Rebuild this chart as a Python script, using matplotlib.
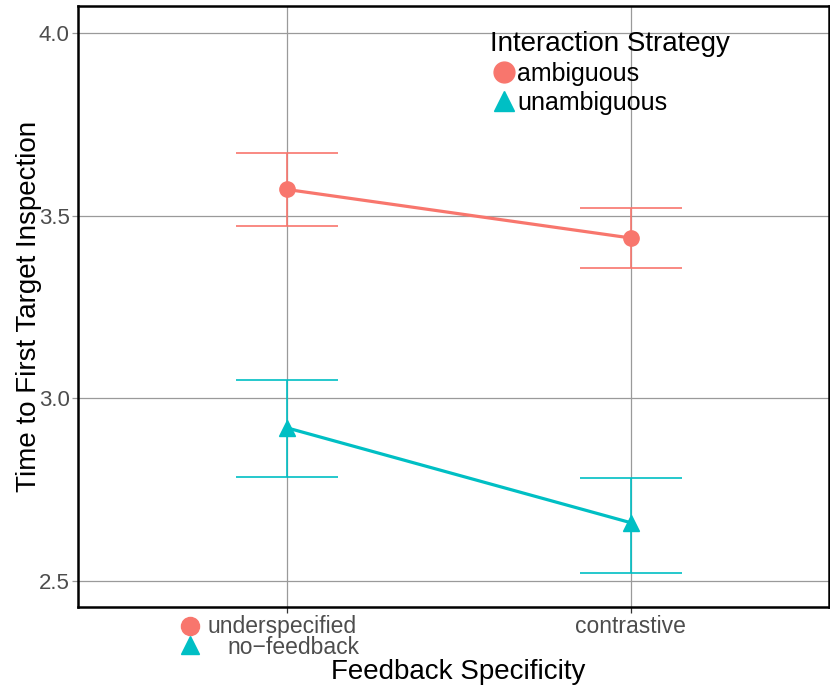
import numpy as np
import matplotlib.pyplot as plt
from matplotlib.lines import Line2D
import matplotlib.transforms as mtransforms

plt.rcParams['font.family'] = ['Liberation Sans', 'DejaVu Sans']

feedback = ['underspecified', 'contrastive']
strategies = ['ambiguous', 'unambiguous']
ambiguous_mean = [3.572, 3.439]
ambiguous_lo = [3.473, 3.357]
ambiguous_hi = [3.672, 3.521]
unambiguous_mean = [2.919, 2.659]
unambiguous_lo = [2.785, 2.522]
unambiguous_hi = [3.050, 2.782]

colors = ['#F8766D', '#00BFC4']
markers = ['o', '^']

fig = plt.figure(figsize=(8.3, 6.89), dpi=100)
ax = fig.add_axes([0.094, 0.119, 0.905, 0.872])

x = np.arange(1, len(feedback) + 1)
series = [(ambiguous_mean, ambiguous_lo, ambiguous_hi),
          (unambiguous_mean, unambiguous_lo, unambiguous_hi)]
for (m, lo, hi), c, mk in zip(series, colors, markers):
    m = np.array(m); lo = np.array(lo); hi = np.array(hi)
    ax.errorbar(x, m, yerr=[m - lo, hi - m], fmt='none', ecolor=c,
                elinewidth=1.2, capsize=37, capthick=1.2, zorder=3)
    ax.plot(x, m, color=c, lw=2.3, marker=mk, markersize=11, zorder=4)

ax.set_xlim(0.393, 2.577)
ax.set_ylim(2.428, 4.074)
ax.set_yticks([2.5, 3.0, 3.5, 4.0])
ax.set_yticklabels(['2.5', '3.0', '3.5', '4.0'])
ax.set_xticks(x)
ax.set_xticklabels(['', 'contrastive'])
ax.grid(True, color='#9a9a9a', lw=0.9)
ax.set_axisbelow(True)
ax.tick_params(axis='y', colors='#9a9a9a', labelcolor='#4d4d4d',
               labelsize=16, length=4, width=0.9, pad=2)
ax.tick_params(axis='x', colors='#333333', labelcolor='#4d4d4d',
               labelsize=16.5, length=4, width=0.9, pad=2)
for s in ax.spines.values():
    s.set_color('black')
    s.set_linewidth(1.8)

ax.set_ylabel('Time to First Target Inspection', fontsize=20)
ax.yaxis.set_label_coords(-(78 - 42) / 751, 0.5)
fig.text(458 / 830, 1 - 672 / 689, 'Feedback Specificity', fontsize=20,
         ha='center', va='center')

# odd key-like label under the first tick
trans = mtransforms.blended_transform_factory(ax.transData, fig.transFigure)
ax.text(0.985, 1 - 626 / 689, 'underspecified', transform=trans, fontsize=16.5,
        color='#4d4d4d', ha='center', va='center')
ax.text(1.02, 1 - 648 / 689, 'no\u2212feedback', transform=trans, fontsize=16.5,
        color='#4d4d4d', ha='center', va='center')
for yy, c, mk in zip([626, 645], colors, markers):
    fig.add_artist(Line2D([190 / 830], [1 - yy / 689], marker=mk, color=c,
                          markersize=13, linestyle='none',
                          transform=fig.transFigure))

handles = [Line2D([], [], color=c, marker=mk, linestyle='none', markersize=15)
           for c, mk in zip(colors, markers)]
leg = ax.legend(handles, strategies, title='Interaction Strategy',
                loc='upper left', bbox_to_anchor=(0.535, 0.975), frameon=False,
                fontsize=18, title_fontsize=20, handletextpad=0.0,
                labelspacing=0.2, borderaxespad=0, handlelength=1.1,
                alignment='left')

fig.savefig('out.png', dpi=100)
